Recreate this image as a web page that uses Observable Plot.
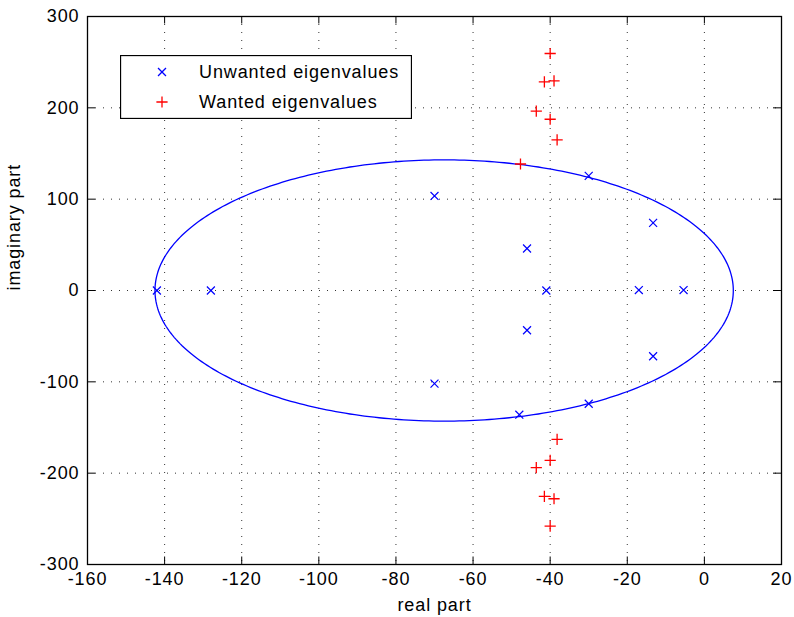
<!DOCTYPE html>
<html>
<head>
<meta charset="utf-8">
<script src="https://cdn.jsdelivr.net/npm/d3@7"></script>
<script src="https://cdn.jsdelivr.net/npm/@observablehq/plot@0.6"></script>
<style>
  html, body { margin: 0; padding: 0; background: #fff; }
  #wrap { position: relative; width: 794px; height: 617px; font-family: "Liberation Sans", Arial, sans-serif; }
  #legend { position: absolute; left: 120px; top: 55px; }
  #wrap svg text { letter-spacing: 0.9px; }
</style>
</head>
<body>
<div id="wrap"></div>
<script>
// ---- data ----
const xTicks = [-160, -140, -120, -100, -80, -60, -40, -20, 0, 20];
const yTicks = [-300, -200, -100, 0, 100, 200, 300];

const unwantedRe = [-142, -128, -70, -70, -46, -46, -41, -30, -30, -48, -13.3, -13.3, -17, -5.4];
const unwantedIm = [0, 0, 103.5, -102, 46, -43.5, 0, 125.5, -124, -136, 74, -72, 0.5, 0.5];

const wantedRe = [-40, -41.5, -39, -43.6, -40, -38.2, -47.7, -38.2, -40, -43.6, -41.5, -39, -40];
const wantedIm = [259.5, 228.5, 229.5, 196.5, 187.5, 165, 138.5, -163, -186, -194, -225.5, -228, -258];

// filter contour: ellipse center and semi-axes
const ellipseCenter = [-67.5, 0];
const ellipseRadii = [75, 143];

const legendLabels = ["Unwanted eigenvalues", "Wanted eigenvalues"];

// ---- derived tables ----
const unwanted = unwantedRe.map((re, i) => ({re, im: unwantedIm[i]}));
const wanted = wantedRe.map((re, i) => ({re, im: wantedIm[i]}));
const ellipse = d3.range(0, 361).map(k => {
  const t = k * Math.PI / 180;
  return {re: ellipseCenter[0] + ellipseRadii[0] * Math.cos(t), im: ellipseCenter[1] + ellipseRadii[1] * Math.sin(t)};
});

const BLUE = "rgb(0,0,255)", RED = "rgb(255,0,0)";
const FONT = 18;
const fmt = d => String(d);

const chart = Plot.plot({
  width: 794,
  height: 617,
  marginLeft: 87,
  marginRight: 13,
  marginTop: 16,
  marginBottom: 53,
  style: {fontFamily: '"Liberation Sans", Arial, sans-serif', fontSize: FONT + "px", background: "#fff", color: "#000"},
  x: {domain: [-160, 20], ticks: xTicks},
  y: {domain: [-300, 300], ticks: yTicks},
  marks: [
    Plot.gridX(xTicks, {stroke: "#000", strokeOpacity: 0.8, strokeWidth: 1, strokeDasharray: "1,7"}),
    Plot.gridY(yTicks, {stroke: "#000", strokeOpacity: 0.8, strokeWidth: 1, strokeDasharray: "1,7"}),
    // inward ticks on all four sides
    Plot.tickX(xTicks, {x: d => d, insetTop: 540.5, stroke: "#000", strokeWidth: 1}),
    Plot.tickX(xTicks, {x: d => d, insetBottom: 540.5, stroke: "#000", strokeWidth: 1}),
    Plot.tickY(yTicks, {y: d => d, insetRight: 686, stroke: "#000", strokeWidth: 1}),
    Plot.tickY(yTicks, {y: d => d, insetLeft: 686, stroke: "#000", strokeWidth: 1}),
    Plot.axisX(xTicks, {anchor: "bottom", tickSize: 0, tickPadding: 8, tickFormat: fmt, label: null, fontSize: FONT}),
    Plot.axisY(yTicks, {anchor: "left", tickSize: 0, tickPadding: 8, tickFormat: fmt, label: null, fontSize: FONT}),
    Plot.line(ellipse, {x: "re", y: "im", stroke: BLUE, strokeWidth: 1.3}),
    Plot.dot(unwanted, {x: "re", y: "im", symbol: "times", r: 3.7, stroke: BLUE, strokeWidth: 1.2}),
    Plot.dot(wanted, {x: "re", y: "im", symbol: "plus", r: 3.7, stroke: RED, strokeWidth: 1.3}),
    Plot.frame({stroke: "#000", strokeWidth: 1.3}),
    Plot.text(["real part"], {frameAnchor: "bottom", lineAnchor: "top", dy: 34, fontSize: FONT, fill: "#000"}),
    Plot.text(["imaginary part"], {frameAnchor: "left", rotate: -90, lineAnchor: "middle", dx: -73, fontSize: FONT, fill: "#000"})
  ]
});

const wrap = document.getElementById("wrap");
wrap.appendChild(chart);

// legend box (overlay)
const lw = 291, lh = 63;
const leg = d3.create("svg").attr("id", "legend").attr("width", lw + 1).attr("height", lh + 1)
  .style("font-family", '"Liberation Sans", Arial, sans-serif').style("font-size", FONT + "px");
leg.append("rect").attr("x", 0.5).attr("y", 0.5).attr("width", lw).attr("height", lh)
  .attr("fill", "#fff").attr("stroke", "#000").attr("stroke-width", 1.3);
const symbols = [d3.symbolTimes, d3.symbolPlus];
const colors = [BLUE, RED];
legendLabels.forEach((lab, i) => {
  const cy = 17 + i * 30;
  leg.append("path").attr("transform", `translate(42,${cy})`)
    .attr("d", d3.symbol(symbols[i], Math.PI * 3.7 * 3.7)())
    .attr("fill", "none").attr("stroke", colors[i]).attr("stroke-width", 1.3);
  leg.append("text").attr("x", 79).attr("y", cy).attr("dy", "0.35em").attr("fill", "#000").text(lab);
});
wrap.appendChild(leg.node());
</script>
</body>
</html>
